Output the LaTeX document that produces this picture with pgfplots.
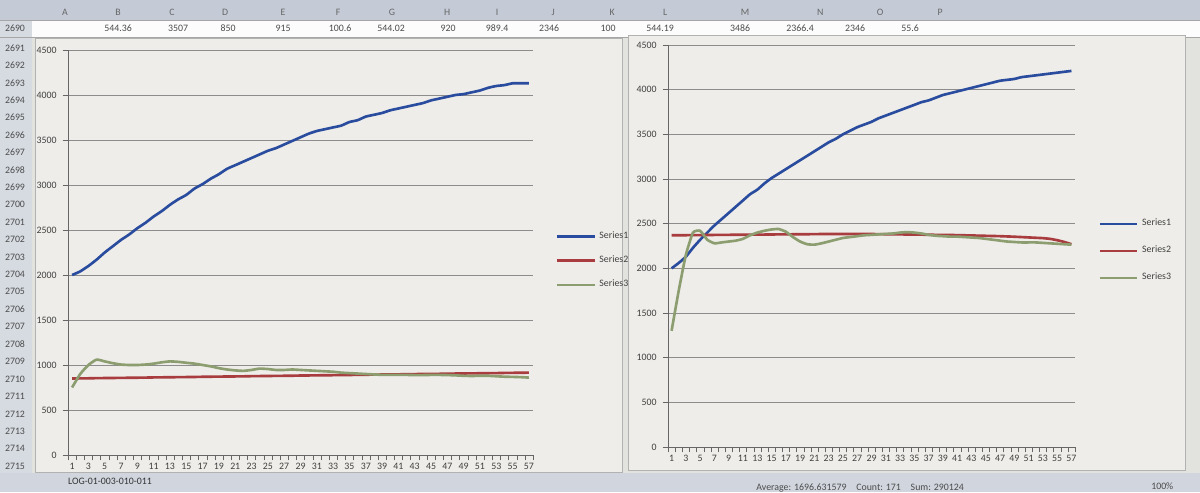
\documentclass[border=0pt]{standalone}
\usepackage{fontspec}
\setmainfont{Carlito}
\usepackage{pgfplots}
\pgfplotsset{compat=1.18}
\usepackage{pgfplotstable}
\definecolor{sblue}{RGB}{42,76,158}
\definecolor{sred}{RGB}{168,60,62}
\definecolor{sgreen}{RGB}{140,158,112}
\definecolor{bgc}{RGB}{226,226,222}
\definecolor{panel}{RGB}{238,237,233}
\definecolor{hdr}{RGB}{196,203,214}
\definecolor{gridc}{RGB}{140,140,140}
\pgfplotstableread{
x l1 l2 l3 r1 r2 r3
1 2000 850 750 2000 2370 1300
2 2040 851 900 2060 2370 1750
3 2100 852 1000 2130 2371 2150
4 2170 854 1060 2230 2372 2400
5 2250 855 1040 2320 2372 2420
6 2320 856 1020 2400 2373 2320
7 2390 857 1005 2480 2374 2280
8 2450 858 1000 2550 2374 2290
9 2520 859 1000 2620 2375 2300
10 2580 860 1005 2690 2376 2310
11 2650 862 1015 2760 2376 2330
12 2710 863 1030 2830 2377 2370
13 2780 864 1040 2880 2378 2400
14 2840 865 1035 2950 2378 2420
15 2890 866 1025 3010 2379 2435
16 2960 867 1015 3060 2380 2440
17 3010 869 1000 3110 2380 2410
18 3070 870 985 3160 2381 2350
19 3120 871 965 3210 2382 2300
20 3180 872 950 3260 2382 2270
21 3220 873 940 3310 2383 2265
22 3260 874 935 3360 2384 2280
23 3300 876 945 3410 2384 2300
24 3340 877 960 3450 2385 2320
25 3380 878 955 3500 2385 2340
26 3410 879 945 3540 2385 2350
27 3450 880 945 3580 2385 2360
28 3490 881 950 3610 2384 2370
29 3530 883 945 3640 2384 2375
30 3570 884 940 3680 2383 2380
31 3600 885 935 3710 2382 2385
32 3620 886 930 3740 2381 2390
33 3640 887 925 3770 2380 2400
34 3660 888 915 3800 2379 2405
35 3700 889 910 3830 2378 2400
36 3720 891 905 3860 2377 2390
37 3760 892 900 3880 2376 2375
38 3780 893 895 3910 2375 2365
39 3800 894 890 3940 2374 2360
40 3830 895 890 3960 2373 2355
41 3850 896 890 3980 2372 2355
42 3870 898 890 4000 2370 2350
43 3890 899 888 4020 2368 2345
44 3910 900 888 4040 2366 2340
45 3940 901 890 4060 2364 2330
46 3960 902 890 4080 2362 2320
47 3980 903 888 4100 2360 2310
48 4000 905 885 4110 2357 2300
49 4010 906 880 4120 2354 2295
50 4030 907 878 4140 2350 2290
51 4050 908 880 4150 2346 2290
52 4080 909 880 4160 2342 2290
53 4100 910 875 4170 2338 2285
54 4110 912 870 4180 2330 2280
55 4130 913 868 4190 2315 2275
56 4130 914 865 4200 2295 2270
57 4130 915 860 4210 2270 2265
}\data
\newcommand{\tf}{\fontsize{5.6}{6.5}\selectfont}
\pgfplotsset{
  xlchart/.style={
    scale only axis, anchor=south west,
    xmin=0.5, xmax=57.5, ymin=0, ymax=4500,
    xtick={1,3,...,57},
    minor xtick={0.5,1.5,...,57.5},
    ytick={0,500,...,4500},
    axis x line=bottom, axis y line=left,
    axis line style={-, draw=gray!80!black, line width=0.5pt},
    x tick style={draw=none},
    minor x tick style={draw=gray!80!black},
    minor tick length=3pt,
    y tick style={draw=gray!80!black},
    major tick length=3pt,
    tick align=outside,
    ymajorgrids, grid style={draw=gridc, line width=0.45pt},
    tick label style={font=\tf, text=black!75},
    /pgf/number format/assume math mode=true,
    /pgf/number format/set thousands separator={},
    xticklabel style={inner sep=1.5pt},
    legend style={draw=none, fill=none, font=\tf, text=black!75,
      row sep=4.5pt, legend cell align=left},
    legend image code/.code={\draw[#1] (0cm,0cm) -- (0.75cm,0cm);},
    every axis plot/.append style={line width=1.5pt, smooth, tension=0.3},
  }
}
\begin{document}
\begin{tikzpicture}
\path[use as bounding box] (0,0) rectangle (24,9.84);
\fill[bgc] (0,0) rectangle (24,9.84);
% header rows
\fill[hdr] (0,9.84) rectangle (24,9.44);
\fill[white!90!bgc] (0,9.44) rectangle (24,9.1);
\fill[hdr!70!white] (0,0) rectangle (0.64,9.44);
\draw[gray!70] (0,9.44) -- (24,9.44);
\draw[gray!70] (0,9.1) -- (24,9.1);
\foreach \c/\x in {A/65,B/118,C/172,D/225,E/283,F/338,G/392,H/447,I/497,J/553,K/612,L/665,M/745,N/820,O/880,P/940}{
  \node[font=\tf, text=black!60] at ({\x*0.02},{(492-12)*0.02}) {\c};
}
\foreach \v/\x in {544.36/118,3507/178,850/228,915/283,100.6/340,544.02/391,920/448,989.4/497,2346/549,100/608,544.19/660,3486/740,2366.4/800,2346/855,55.6/910}{
  \node[font=\tf, text=black!70] at ({\x*0.02},{(492-28)*0.02}) {\v};
}
\node[font=\tf, text=black!70] at ({15*0.02},{(492-28)*0.02}) {2690};
\foreach \i in {1,...,25}{
  \pgfmathtruncatemacro{\rn}{2690+\i}
  \node[font=\tf, text=black!70] at ({15*0.02},{(492-48-(\i-1)*17.42)*0.02}) {\rn};
}
% bottom bar
\fill[hdr!80!white] (0,0) rectangle (24,0.38);
\node[font=\tf, text=black!80, anchor=west] at ({62*0.02},{(492-481)*0.02}) {LOG-01-003-010-011};
\node[font=\tf, text=black!70, anchor=west] at ({750*0.02},{(492-488)*0.02}) {Average: 1696.631579\quad Count: 171\quad Sum: 290124};
\node[font=\tf, text=black!70] at ({1162*0.02},{(492-486)*0.02}) {100\%};
% chart panels
\filldraw[fill=panel, draw=gray!60] ({35*0.02},{(492-472)*0.02}) rectangle ({622*0.02},{(492-38)*0.02});
\filldraw[fill=panel, draw=gray!60] ({628*0.02},{(492-470)*0.02}) rectangle ({1185*0.02},{(492-35)*0.02});
\begin{axis}[xlchart, at={(1.36cm,0.74cm)}, width=9.3cm, height=8.1cm,
  legend style={at={(1.037,0.57)}, anchor=north west}]
\addplot[sblue] table[x=x,y=l1]{\data};
\addplot[sred] table[x=x,y=l2]{\data};
\addplot[sgreen] table[x=x,y=l3]{\data};
\legend{Series1,Series2,Series3}
\end{axis}
\begin{axis}[xlchart, at={(13.36cm,0.9cm)}, width=8.14cm, height=8.04cm,
  legend style={at={(1.044,0.585)}, anchor=north west, row sep=6pt}]
\addplot[sblue] table[x=x,y=r1]{\data};
\addplot[sred] table[x=x,y=r2]{\data};
\addplot[sgreen] table[x=x,y=r3]{\data};
\legend{Series1,Series2,Series3}
\end{axis}
\end{tikzpicture}
\end{document}
